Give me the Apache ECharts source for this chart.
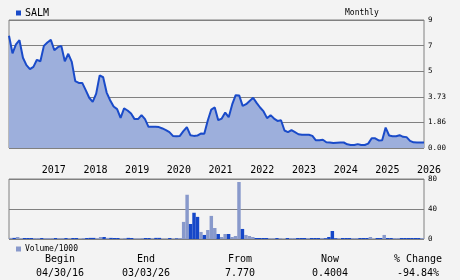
<!DOCTYPE html>
<html><head><meta charset="utf-8">
<script src="https://cdn.jsdelivr.net/npm/echarts@6/dist/echarts.min.js"></script>
<style>html,body{margin:0;padding:0;background:#f3f3f3}#c{width:460px;height:280px}</style>
</head><body><div id="c"></div>
<script>
// ---- data ----
var ticker = 'SALM';
var period = 'Monthly';
var startYear = 2016, startMonth = 4; // first point: Apr 2016
var prices = [7.77,6.4,7.09,7.42,6.05,5.47,5.16,5.34,5.89,5.78,6.98,7.24,7.45,6.64,6.88,6.98,5.78,6.36,5.73,4.51,
4.42,4.42,4.06,3.66,3.36,3.89,4.79,4.70,3.94,3.48,3.02,2.83,2.19,2.88,2.73,2.51,2.10,2.10,2.39,2.10,
1.54,1.54,1.54,1.52,1.42,1.30,1.15,0.88,0.86,0.88,1.22,1.51,0.93,0.88,0.90,1.05,1.03,2.00,2.80,2.95,
2.02,2.14,2.58,2.24,3.17,3.81,3.80,3.07,3.19,3.43,3.66,3.29,2.95,2.66,2.17,2.39,2.14,1.97,2.02,1.27,
1.15,1.30,1.15,1.00,0.96,0.96,0.96,0.88,0.56,0.56,0.60,0.42,0.40,0.36,0.38,0.40,0.40,0.27,0.22,0.22,
0.28,0.22,0.22,0.32,0.71,0.70,0.55,0.57,1.48,0.91,0.86,0.86,0.93,0.81,0.79,0.52,0.41,0.40,0.40,0.4004];
var volumes = [1.5,1.5,2.7,1.0,1.3,1.3,1.3,1.3,1.3,1.3,1.3,1.3,1.3,1.3,1.3,1.3,1.3,1.3,1.3,1.3,
0.4,1.3,1.3,1.5,1.5,1.0,2.7,2.7,1.5,1.5,1.3,1.3,0.5,1.3,1.5,1.3,0.8,0.8,1.3,1.3,
1.3,1.0,1.5,1.5,0.5,0.5,1.3,0.5,0.8,1.3,22.8,59,20,35,29.5,9.4,5.4,12,30.8,14.7,
6.7,2.7,6.7,6.7,2.7,4,76,13.4,5.4,4,2.7,1.3,1.3,1.3,1.3,1,1,1.3,1,0.3,
1.3,1.3,1.3,1.3,1.3,1.3,1.3,1.3,1.3,1.3,1.3,1.0,2.7,10.7,1.0,1.0,1.3,1.3,1.3,1.3,
1.3,1.3,1.3,1.3,2.7,0.5,1.3,1.3,5.4,1.3,1.3,1.3,1.3,1.3,1.3,1.3,1.3,1.3,1.3,1.3];
// 1 = up month, 0 = down month
var volUp = [1,0,1,1,0,0,0,1,1,0,1,1,1,0,1,1,0,1,0,0,
1,1,0,0,0,1,1,0,1,0,0,0,1,1,0,0,1,1,1,0,
0,1,0,0,1,1,0,1,0,1,1,1,0,0,0,1,0,1,1,1,
0,1,1,0,1,1,1,0,1,1,1,0,0,0,0,1,1,0,1,1,
0,1,1,0,0,0,1,0,0,0,1,0,0,0,0,1,0,0,0,1,
1,0,0,0,1,1,0,0,1,0,0,1,1,0,0,0,0,0,0,1];
var yKnots = [0, 1.86, 3.73, 5, 7, 9];
var yTickLabels = ['0.00', '1.86', '3.73', '5', '7', '9'];
var volTicks = [0, 40, 80];
var tableHeads = ['Begin', 'End', 'From', 'Now', '% Change'];
var tableVals = ['04/30/16', '03/03/26', '7.770', '0.4004', '-94.84%'];

// ---- helpers ----
function toScale(v) {
  for (var j = 1; j < yKnots.length; j++) {
    if (v <= yKnots[j]) return (j - 1) + (v - yKnots[j - 1]) / (yKnots[j] - yKnots[j - 1]);
  }
  return yKnots.length - 1;
}
var off = startMonth - 1; // months from Jan of startYear
var nMonths = prices.length;
var priceData = prices.map(function (v, i) { return [i + off, toScale(v)]; });
var volData = volumes.map(function (v, i) {
  return { value: [i + 0.5, v], itemStyle: { color: volUp[i] ? '#8899cb' : '#1547c8' } };
});

var FONT = 'DejaVu Sans Mono';
var L = 9, W = 415;
var pxPerMonth = W / (nMonths - 1);
var graphics = [];
var colX = [60, 146, 240, 330, 418];
tableHeads.forEach(function (h, i) {
  graphics.push({ type: 'text', x: colX[i], y: 259, style: { text: h, font: '10px "' + FONT + '"', fill: '#000', textAlign: 'center', textVerticalAlign: 'middle' } });
  graphics.push({ type: 'text', x: colX[i], y: 273, style: { text: tableVals[i], font: '10px "' + FONT + '"', fill: '#000', textAlign: 'center', textVerticalAlign: 'middle' } });
});

var chart = echarts.init(document.getElementById('c'), null, { renderer: 'canvas' });
chart.setOption({
  animation: false,
  backgroundColor: '#f3f3f3',
  textStyle: { fontFamily: FONT },
  title: { text: period, left: 340, top: 4, textStyle: { fontSize: 8, fontWeight: 'normal', color: '#000', fontFamily: FONT } },
  legend: [
    { data: [ticker], left: 11, top: 3, icon: 'rect', itemWidth: 5, itemHeight: 5, itemGap: 4,
      textStyle: { fontSize: 10, color: '#000', fontFamily: FONT, padding: [0, 0, 0, -1] } },
    { data: ['Volume/1000'], left: 11, top: 240, icon: 'rect', itemWidth: 5, itemHeight: 5,
      textStyle: { fontSize: 8, color: '#000', fontFamily: FONT, padding: [0, 0, 0, -1] } }
  ],
  grid: [
    { left: L, top: 20, width: W, height: 128, show: true, borderColor: '#808080', borderWidth: 1, backgroundColor: 'transparent' },
    { left: L, top: 179, width: W, height: 60, show: true, borderColor: '#808080', borderWidth: 1, backgroundColor: 'transparent' },
    { left: L - off * pxPerMonth, top: 20, width: W + off * pxPerMonth, height: 128 }
  ],
  xAxis: [
    { gridIndex: 0, type: 'value', min: off, max: off + nMonths - 1, show: false },
    { gridIndex: 1, type: 'value', min: 0, max: nMonths, show: false },
    { gridIndex: 2, type: 'value', min: 0, max: off + nMonths - 1, interval: 12,
      axisLine: { show: false }, axisTick: { show: false }, splitLine: { show: false },
      axisLabel: { showMinLabel: false, showMaxLabel: false, align: 'left', margin: 17,
        fontSize: 10, color: '#000', fontFamily: FONT,
        formatter: function (v) { return String(startYear + Math.round(v / 12)); } } }
  ],
  yAxis: [
    { gridIndex: 0, type: 'value', position: 'right', min: 0, max: yKnots.length - 1, interval: 1,
      axisLine: { show: false }, axisTick: { show: false },
      splitLine: { show: true, lineStyle: { color: '#808080', width: 1 } },
      axisLabel: { margin: 4, fontSize: 7.5, color: '#000', fontFamily: FONT, padding: [4, 0, 0, 0],
        formatter: function (v) { return yTickLabels[Math.round(v)]; } } },
    { gridIndex: 1, type: 'value', position: 'right', min: volTicks[0], max: volTicks[2], interval: volTicks[1],
      axisLine: { show: false }, axisTick: { show: false },
      splitLine: { show: true, lineStyle: { color: '#808080', width: 1 } },
      axisLabel: { margin: 4, fontSize: 7.5, color: '#000', fontFamily: FONT, padding: [4, 0, 0, 0] } },
    { gridIndex: 2, type: 'value', min: 0, max: 5, show: false }
  ],
  series: [
    { name: ticker, type: 'line', xAxisIndex: 0, yAxisIndex: 0, data: priceData, symbol: 'none',
      color: '#1a4bc9',
      lineStyle: { color: '#1a4bc9', width: 2 },
      areaStyle: { color: '#9dafdc', opacity: 1 } },
    { name: 'Volume/1000', type: 'bar', xAxisIndex: 1, yAxisIndex: 1, data: volData,
      color: '#8899cb', barWidth: W / nMonths }
  ],
  graphic: graphics
});
</script>
</body></html>
